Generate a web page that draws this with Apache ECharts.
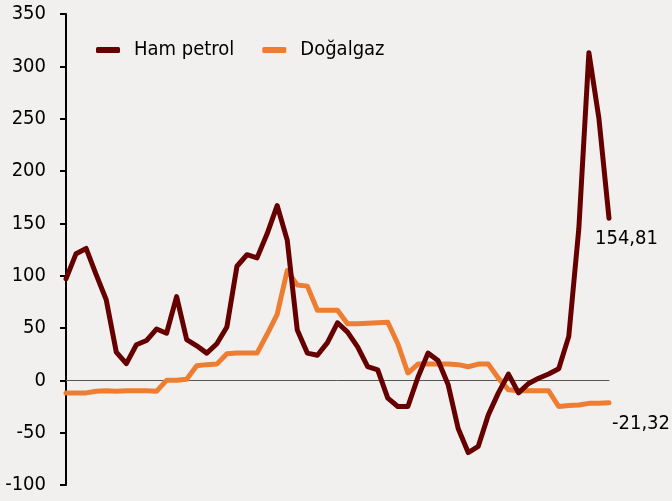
<!DOCTYPE html>
<html>
<head>
<meta charset="utf-8">
<script src="https://cdn.jsdelivr.net/npm/echarts@6/dist/echarts.min.js"></script>
<style>
html,body{margin:0;padding:0;background:#f2f0ef;}
#c{width:672px;height:501px;}
</style>
</head>
<body>
<div id="c"></div>
<script>
var categories = [];
for (var i = 1; i <= 55; i++) categories.push(String(i));

var hamPetrol = [97,121,126,101,77,27,16,34,38,49,45,80,39,33,26,35,51,109,120,117,140,167,134,48,26,24,36,55,46,32,13,10,-17,-25,-25,3,26,19,-4,-46,-69,-63,-33,-12,6,-12,-3,2,6,11,42,145,313,250,154.81];
var dogalgaz = [-12,-12,-12,-10.5,-10,-10.5,-10,-10,-10,-10.5,0,0,1,14,15,15.5,25.5,26,26,26,44,63,105,91,90,67,67,67,54,54,54.5,55,55.5,35,7,15.5,15.5,15.5,15.5,15,13,15.5,15.5,2,-9,-10,-10,-10,-10,-25,-24,-23.5,-22,-22,-21.32];

var yTicks = { min: -100, max: 350, interval: 50 };
var seriesNames = ['Ham petrol', 'Doğalgaz'];

var FONT = '"DejaVu Sans Condensed", "DejaVu Sans", sans-serif';
function fmt(v){ return String(v).replace('.', ','); }

var chart = echarts.init(document.getElementById('c'));
chart.setOption({
  backgroundColor: '#f2f0ef',
  animation: false,
  grid: { left: 66, right: 63, top: 14, bottom: 16, containLabel: false },
  legend: {
    left: 91, top: 35,
    itemWidth: 24, itemHeight: 6, itemGap: 28,
    icon: 'roundRect',
    textStyle: { fontFamily: FONT, fontSize: 20, color: '#000', padding: [0,0,0,9] },
    data: seriesNames
  },
  xAxis: {
    type: 'category',
    data: categories,
    boundaryGap: false,
    axisLine: { onZero: true, lineStyle: { color: '#555', width: 1 } },
    axisTick: { show: false },
    axisLabel: { show: false },
    splitLine: { show: false }
  },
  yAxis: {
    type: 'value',
    min: yTicks.min, max: yTicks.max, interval: yTicks.interval,
    axisLine: { show: true, onZero: false, lineStyle: { color: '#000', width: 2 } },
    axisTick: { show: true, length: 6, lineStyle: { color: '#000', width: 2 } },
    axisLabel: { fontFamily: FONT, fontSize: 20, color: '#000', margin: 20 },
    splitLine: { show: false }
  },
  series: [
    {
      name: seriesNames[0], type: 'line', data: hamPetrol,
      showSymbol: false, symbol: 'none',
      color: '#660000',
      lineStyle: { width: 5, color: '#660000', cap: 'round', join: 'round' },
      endLabel: {
        show: true, formatter: function(p){ return fmt(p.value); },
        fontFamily: FONT, fontSize: 20, color: '#000',
        align: 'left', verticalAlign: 'middle', offset: [-22, 20]
      },
      z: 3
    },
    {
      name: seriesNames[1], type: 'line', data: dogalgaz,
      showSymbol: false, symbol: 'none',
      color: '#ED7D31',
      lineStyle: { width: 5, color: '#ED7D31', cap: 'round', join: 'round' },
      endLabel: {
        show: true, formatter: function(p){ return fmt(p.value); },
        fontFamily: FONT, fontSize: 20, color: '#000',
        align: 'left', verticalAlign: 'middle', offset: [-5, 21]
      },
      z: 2
    }
  ]
});
</script>
</body>
</html>
